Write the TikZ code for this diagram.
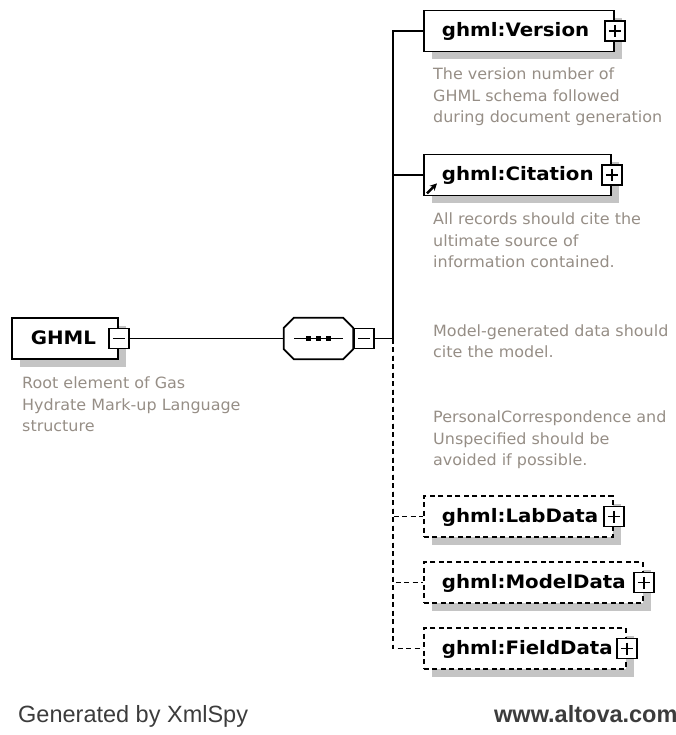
\documentclass[tikz,border=0pt]{standalone}
\usepackage{fontspec}
\setmainfont{Liberation Sans}
\newfontfamily\lblfont[FakeStretch=1.07]{DejaVu Sans}
\newfontfamily\docfont[FakeStretch=1.03]{DejaVu Sans}
\usetikzlibrary{arrows.meta,calc}
\definecolor{shadowgray}{RGB}{196,196,196}
\definecolor{docgray}{RGB}{150,142,134}
\definecolor{footgray}{RGB}{60,60,60}
\newcommand{\elemlabel}[2]{\makebox[#1][l]{#2}}
% outline of the sequence compositor, built on the anchors of node (seq)
\newcommand{\seqoutline}{($(seq.north west)+(0,10)$) -- ($(seq.north west)+(10,0)$)
  -- ($(seq.north east)+(-10,0)$) -- ($(seq.north east)+(0,10)$)
  -- ($(seq.south east)+(0,-10)$) -- ($(seq.south east)+(-10,0)$)
  -- ($(seq.south west)+(10,0)$) -- ($(seq.south west)+(0,-10)$) -- cycle}

\begin{document}
\begin{tikzpicture}[x=1pt,y=-1pt,
  shadowed/.style={preaction={fill=shadowgray,transform canvas={xshift=8pt,yshift=-8pt}}},
  elem/.style={shadowed,draw=black,fill=white,line width=1.8pt,
    minimum height=41pt,inner xsep=18pt,inner ysep=0pt,anchor=west,
    text height=16pt,text depth=4pt,
    font=\lblfont\bfseries\fontsize{18.5}{22}\selectfont},
  optelem/.style={elem,dash pattern=on 5pt off 3.5pt},
  togglebox/.style={draw=black,fill=white,line width=1.6pt,minimum size=20pt,inner sep=0pt},
  plusbox/.style={togglebox,path picture={
    \draw[line width=1.6pt] ($(path picture bounding box.center)+(-6,0)$) -- ++(12,0);
    \draw[line width=1.6pt] ($(path picture bounding box.center)+(0,-6)$) -- ++(0,12);}},
  minusbox/.style={togglebox,path picture={
    \draw[line width=1.6pt] ($(path picture bounding box.center)+(-6,0)$) -- ++(12,0);}},
  conn/.style={line width=1.8pt,draw=black},
  optconn/.style={conn,dash pattern=on 5pt off 3.5pt},
  doc/.style={anchor=north west,inner sep=0pt,align=left,text=docgray,
    font=\docfont\fontsize{15.5}{21.3}\selectfont},
  footer/.style={anchor=base west,inner sep=0pt,text=footgray,font=\fontsize{23.5}{28}\selectfont}
]
\useasboundingbox (0,0) rectangle (675,735);

% root element
\node[elem,inner xsep=19pt] (ghml) at (11,338.5) {\elemlabel{68pt}{GHML}};
\node[minusbox] (gminus) at (ghml.east) {};
\node[doc] (ghmldoc) at (22,377) {Root element of Gas\\Hydrate Mark-up Language\\structure};

% sequence compositor
\node[minimum width=69pt,minimum height=41pt,inner sep=0pt] (seq) at (318.5,338.5) {};
\fill[shadowgray,shift={(8,8)}] \seqoutline;
\draw[line width=1.8pt,fill=white] \seqoutline;
\node[minusbox,anchor=west] (sminus) at (seq.east) {};
\draw[line width=1.6pt] ($(seq.center)+(-24.5,0)$) -- ($(seq.center)+(24.5,0)$);
\foreach \dx in {-10,0,10}
  \fill ($(seq.center)+(\dx-2.5,-2.5)$) rectangle ++(5,5);

\coordinate (bus) at (393,338.5);

% child elements
\node[elem] (version) at (423,31) {\elemlabel{154pt}{ghml:Version}};
\node[plusbox] (vplus) at (version.east) {};
\node[doc] (versiondoc) at (433,68) {The version number of\\GHML schema followed\\during document generation};

\node[elem] (citation) at (423,175) {\elemlabel{151pt}{ghml:Citation}};
\node[plusbox] (cplus) at (citation.east) {};
\draw[line width=2.4pt,-{Stealth[length=7pt,width=7pt]}]
  ($(citation.south west)+(4,-3)$) -- ++(10,-10);
\node[doc] (citationdoc) at (433,213) {All records should cite the\\ultimate source of\\information contained.};
\node[doc] (modeldoc) at (433,324.5) {Model-generated data should\\cite the model.};
\node[doc] (persdoc) at (433,411) {PersonalCorrespondence and\\Unspecified should be\\avoided if possible.};

\node[optelem] (labdata) at (423,516.5) {\elemlabel{153pt}{ghml:LabData}};
\node[plusbox] (lplus) at (labdata.east) {};
\node[optelem] (modeldata) at (423,582.5) {\elemlabel{183pt}{ghml:ModelData}};
\node[plusbox] (mplus) at (modeldata.east) {};
\node[optelem] (fielddata) at (423,648.5) {\elemlabel{166pt}{ghml:FieldData}};
\node[plusbox] (fplus) at (fielddata.east) {};

% connectors
\draw[conn] (gminus.east) -- (seq.west);
\draw[conn] (sminus.east) -- (bus);
\draw[conn] (bus) |- (version.west);
\draw[conn] (citation.west) -- (citation.west -| bus);
\draw[optconn] (bus) |- (labdata.west);
\draw[optconn] (bus) |- (modeldata.west);
\draw[optconn] (bus) |- (fielddata.west);

% footer
\node[footer] (generated) at (18,722) {Generated by XmlSpy};
\node[footer,font=\bfseries\fontsize{23.5}{28}\selectfont] (altova) at (494,722) {www.altova.com};
\end{tikzpicture}
\end{document}
